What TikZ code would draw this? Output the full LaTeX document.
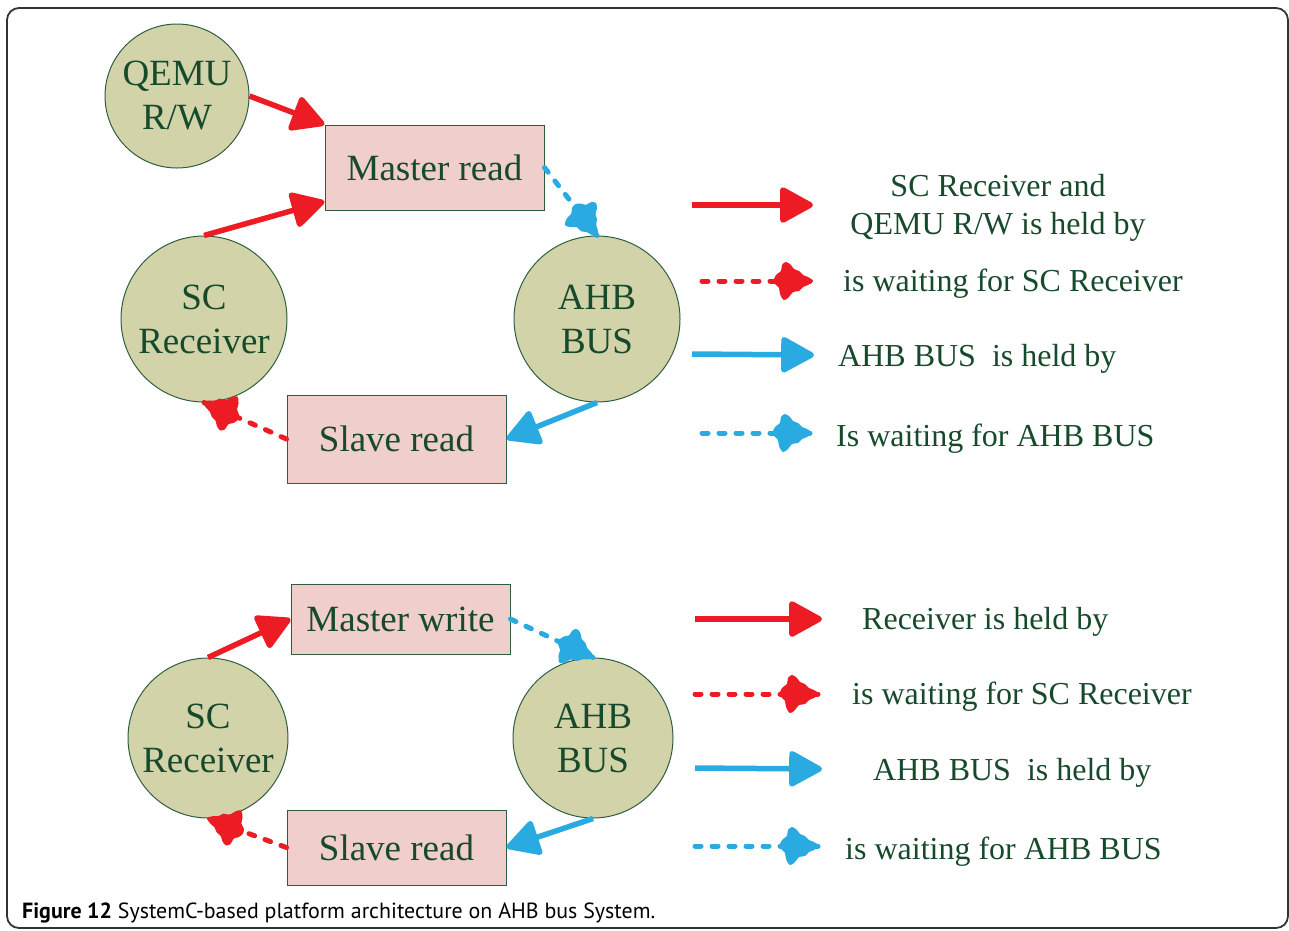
\documentclass[tikz,border=0pt]{standalone}
\usepackage{fontspec}
\setmainfont{Liberation Serif}
\newfontfamily\capfont{PT Sans}
\usetikzlibrary{arrows.meta,decorations.markings}

\definecolor{heldred}{HTML}{ED1C24}
\definecolor{heldblue}{HTML}{29ABE2}
\definecolor{labelgreen}{HTML}{174A2B}
\definecolor{circfill}{HTML}{D3D3AA}
\definecolor{boxfill}{HTML}{EFCECB}
\definecolor{edgegreen}{HTML}{2F5E3F}

\tikzset{
  circ/.style={circle, draw=edgegreen, line width=1pt, fill=circfill, inner sep=0pt,
    minimum size=#1, text=labelgreen, align=center,
    font=\fontsize{37}{44}\selectfont},
  proc/.style={rectangle, draw=edgegreen, line width=1pt, fill=boxfill, inner sep=0pt,
    minimum width=219pt, minimum height=#1, text=labelgreen,
    font=\fontsize{37}{44}\selectfont},
  legend/.style={anchor=base west, inner sep=0pt, text=labelgreen,
    font=\fontsize{32}{38}\selectfont},
  held/.style={line width=5.5pt, #1, -{Triangle[length=36pt,width=38pt,round]}},
  waiting/.style={line width=5pt, #1, line cap=round, dash pattern=on 6pt off 11pt,
    decoration={markings, mark=at position 1 with {
      \fill[#1, line join=round] plot[smooth cycle, tension=0.6] coordinates {
        (1pt,0pt) (-4pt,4pt) (-9pt,6pt) (-13pt,10pt) (-18pt,12pt) (-21pt,16pt)
        (-26pt,19pt) (-30pt,16pt) (-31pt,10pt) (-35pt,7pt) (-38pt,2pt)
        (-37pt,-3pt) (-33pt,-7pt) (-32pt,-13pt) (-28pt,-19pt) (-23pt,-16pt)
        (-19pt,-11pt) (-13pt,-10pt) (-9pt,-6pt) (-4pt,-4pt)};}},
    postaction={decorate}},
}

\begin{document}
\begin{tikzpicture}[x=1pt, y=-1pt]
\useasboundingbox (0,0) rectangle (1289,930);
\draw[rounded corners=12pt, line width=1.8pt, black!80] (7,8) rectangle (1288,928);

% upper system: read path
\node[circ=144pt] (qemu) at (177,96) {QEMU\\R/W};
\node[proc=85pt] (mr) at (434.5,167.5) {Master read};
\node[circ=166pt] (sc) at (204,319) {SC\\Receiver};
\node[circ=166pt] (ahb) at (597,319) {AHB\\BUS};
\node[proc=88pt] (sr) at (396.5,439) {Slave read};

\draw[held=heldred] (qemu.east) -- (mr.north west);
\draw[held=heldred] (sc.north) -- ([yshift=9pt]mr.south west);
\draw[waiting=heldblue] (mr.east) -- (ahb.north);
\draw[held=heldblue] (ahb.south) -- (sr.east);
\draw[waiting=heldred] (sr.west) -- (sc.south);

% upper legend
\coordinate (l1a) at (692,205); \coordinate (l1b) at (813,205);
\coordinate (l2a) at (702,281); \coordinate (l2b) at (812,281);
\coordinate (l3a) at (692,354); \coordinate (l3b) at (814,355);
\coordinate (l4a) at (702,433); \coordinate (l4b) at (811,433);
\draw[held=heldred] (l1a) -- (l1b);
\draw[waiting=heldred] (l2a) -- (l2b);
\draw[held=heldblue] (l3a) -- (l3b);
\draw[waiting=heldblue] (l4a) -- (l4b);
\node[legend, anchor=center, align=center] (t1) at (998,208) {SC Receiver and\\QEMU R/W is held by};
\node[legend] (t2) at (843,291) {is waiting for SC Receiver};
\node[legend] (t3) at (838,366) {AHB BUS~~is held by};
\node[legend] (t4) at (836,446) {Is waiting for AHB BUS};

% lower system: write path
\node[proc=70pt] (mw) at (400.5,619) {Master write};
\node[circ=160pt] (sc2) at (208,738) {SC\\Receiver};
\node[circ=160pt] (ahb2) at (593,738) {AHB\\BUS};
\node[proc=75pt] (sr2) at (396.5,847.5) {Slave read};

\draw[held=heldred] (sc2.north) -- (mw.west);
\draw[waiting=heldblue] (mw.east) -- (ahb2.north);
\draw[held=heldblue] (ahb2.south) -- (sr2.east);
\draw[waiting=heldred] (sr2.west) -- (sc2.south);

% lower legend
\coordinate (m1a) at (695,619); \coordinate (m1b) at (822,619);
\coordinate (m2a) at (695,694); \coordinate (m2b) at (818,694);
\coordinate (m3a) at (695,768); \coordinate (m3b) at (822,769);
\coordinate (m4a) at (695,846); \coordinate (m4b) at (818,846);
\draw[held=heldred] (m1a) -- (m1b);
\draw[waiting=heldred] (m2a) -- (m2b);
\draw[held=heldblue] (m3a) -- (m3b);
\draw[waiting=heldblue] (m4a) -- (m4b);
\node[legend] (u1) at (862,629) {Receiver is held by};
\node[legend] (u2) at (852,704) {is waiting for SC Receiver};
\node[legend] (u3) at (873,780) {AHB BUS~~is held by};
\node[legend] (u4) at (845,859) {is waiting for AHB BUS};

% caption
\node[anchor=base west, inner sep=0pt] (cap) at (22,918)
  {\resizebox{633pt}{!}{\capfont\textbf{Figure 12} SystemC-based platform architecture on AHB bus System.}};
\end{tikzpicture}
\end{document}
